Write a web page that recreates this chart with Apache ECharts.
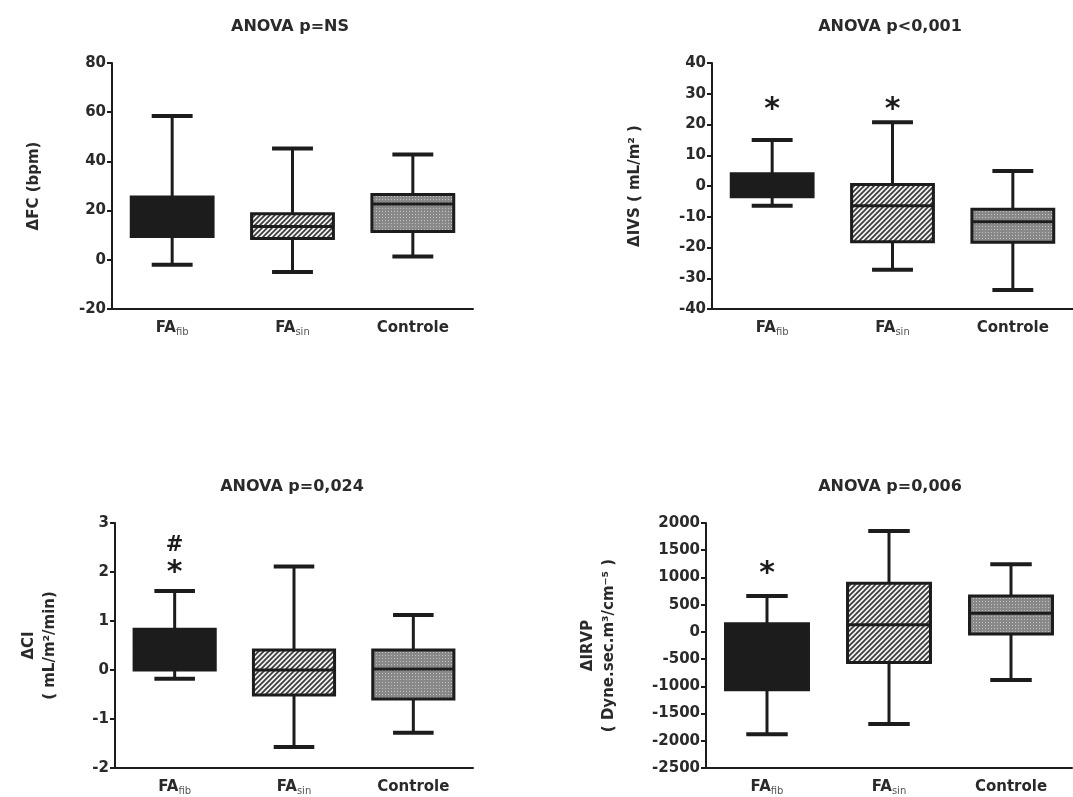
<!DOCTYPE html>
<html>
<head>
<meta charset="utf-8">
<script src="https://cdn.jsdelivr.net/npm/echarts@6/dist/echarts.min.js"></script>
<style>
html,body{margin:0;padding:0;background:#fff;}
#chart{width:1073px;height:797px;}
</style>
</head>
<body>
<div id="chart"></div>
<script>
// ---------- DATA ----------
const categories = ['FAfib', 'FAsin', 'Controle'];
// each box: [min, Q1, median, Q3, max]
const fcBoxes   = [[-2, 9.5, 17, 25.5, 58.5], [-5, 8.7, 13.5, 18.7, 45.2], [1.3, 11.5, 22.7, 26.5, 42.8]];
const ivsBoxes  = [[-6.4, -3.5, 0, 4, 15], [-27.2, -18.1, -6.4, 0.5, 20.7], [-33.8, -18.3, -11.6, -7.6, 4.9]];
const ciBoxes   = [[-0.18, 0, 0.4, 0.83, 1.61], [-1.57, -0.51, 0, 0.41, 2.11], [-1.28, -0.59, 0.02, 0.41, 1.12]];
const irvpBoxes = [[-1880, -1065, -400, 150, 660], [-1690, -563, 130, 894, 1855], [-882, -40, 343, 661, 1243]];
// significance marks: [category, value, symbol]
const fcMarks   = [];
const ivsMarks  = [['FAfib', 27, '*'], ['FAsin', 27, '*']];
const ciMarks   = [['FAfib', 2.11, '*'], ['FAfib', 2.55, '#']];
const irvpMarks = [['FAfib', 1190, '*']];
// axis ranges: [min, max, interval]
const fcAxis   = [-20, 80, 20];
const ivsAxis  = [-40, 40, 10];
const ciAxis   = [-2, 3, 1];
const irvpAxis = [-2500, 2000, 500];
const titles = ['ANOVA p=NS', 'ANOVA p<0,001', 'ANOVA p=0,024', 'ANOVA p=0,006'];
const yNames = ['ΔFC (bpm)', 'ΔIVS ( mL/m² )', 'ΔCI\n( mL/m²/min)', 'ΔIRVP\n( Dyne.sec.m³/cm⁻⁵ )'];

// ---------- STYLE ----------
const FONT = 'DejaVu Sans';
const INK = '#1c1c1c';
const TXT = '#2a2a2a';

function hatchPattern() {
  const c = document.createElement('canvas');
  const n = 5; c.width = n; c.height = n;
  const g = c.getContext('2d');
  g.fillStyle = '#f2f2f2'; g.fillRect(0, 0, n, n);
  g.strokeStyle = '#3c3c3c'; g.lineWidth = 1.7;
  g.beginPath();
  g.moveTo(-1, n + 1); g.lineTo(n + 1, -1);
  g.moveTo(-1, 1); g.lineTo(1, -1);
  g.moveTo(n - 1, n + 1); g.lineTo(n + 1, n - 1);
  g.stroke();
  return c;
}
function dotPattern() {
  const c = document.createElement('canvas');
  c.width = 3; c.height = 3;
  const g = c.getContext('2d');
  g.fillStyle = '#888888'; g.fillRect(0, 0, 3, 3);
  g.fillStyle = '#c2c2c2'; g.fillRect(1, 1, 1, 1);
  return c;
}
const fills = [INK, { image: hatchPattern(), repeat: 'repeat' }, { image: dotPattern(), repeat: 'repeat' }];

const grids = [
  { left: 112, top: 63, width: 361, height: 246 },
  { left: 712, top: 63, width: 361, height: 246 },
  { left: 115, top: 523, width: 358, height: 245 },
  { left: 706, top: 523, width: 366, height: 245 }
];
const titlePos = [[290, 19], [890, 19], [292, 479], [890, 479]];
const nameGaps = [67, 66, 54, 86];
const axesCfg = [fcAxis, ivsAxis, ciAxis, irvpAxis];
const boxSets = [fcBoxes, ivsBoxes, ciBoxes, irvpBoxes];
const markSets = [fcMarks, ivsMarks, ciMarks, irvpMarks];

function boxSeries(i, boxes) {
  return {
    type: 'custom', xAxisIndex: i, yAxisIndex: i, silent: true,
    data: boxes.map((b, k) => [k].concat(b)),
    encode: { x: 0, y: [1, 2, 3, 4, 5] },
    renderItem: function (params, api) {
      const k = api.value(0);
      const band = api.size([1, 0])[0];
      const bw = band * 0.68, cw = band * 0.34;
      const pMin = api.coord([k, api.value(1)]);
      const pQ1 = api.coord([k, api.value(2)]);
      const pMed = api.coord([k, api.value(3)]);
      const pQ3 = api.coord([k, api.value(4)]);
      const pMax = api.coord([k, api.value(5)]);
      const cx = pMin[0];
      const ln = (x1, y1, x2, y2, w) => ({ type: 'line', shape: { x1, y1, x2, y2 }, style: { stroke: INK, lineWidth: w } });
      return {
        type: 'group',
        children: [
          ln(cx, pMax[1], cx, pQ3[1], 3),
          ln(cx, pQ1[1], cx, pMin[1], 3),
          ln(cx - cw / 2, pMax[1], cx + cw / 2, pMax[1], 4),
          ln(cx - cw / 2, pMin[1], cx + cw / 2, pMin[1], 4),
          { type: 'rect', shape: { x: cx - bw / 2, y: pQ3[1], width: bw, height: pQ1[1] - pQ3[1] },
            style: { fill: fills[k], stroke: INK, lineWidth: 3 } },
          ln(cx - bw / 2, pMed[1], cx + bw / 2, pMed[1], 3)
        ]
      };
    }
  };
}
function markSeries(i, marks) {
  return {
    type: 'custom', xAxisIndex: i, yAxisIndex: i, silent: true,
    data: marks.map(m => [categories.indexOf(m[0]), m[1], m[2]]),
    renderItem: function (params, api) {
      const p = api.coord([api.value(0), api.value(1)]);
      const sym = marks[params.dataIndex][2];
      const star = sym === '*';
      return {
        type: 'text', x: p[0], y: p[1] + (star ? 7 : 0),
        style: { text: sym, fontFamily: FONT, fontWeight: 'bold', fontSize: star ? 30 : 21,
                 fill: INK, textAlign: 'center', textVerticalAlign: 'middle' }
      };
    }
  };
}

const option = {
  animation: false,
  backgroundColor: '#fff',
  title: titles.map((t, i) => ({
    text: t, left: titlePos[i][0], top: titlePos[i][1], textAlign: 'center', padding: 0,
    textStyle: { fontFamily: FONT, fontWeight: 'bold', fontSize: 16, color: TXT }
  })),
  grid: grids,
  xAxis: grids.map((g, i) => ({
    type: 'category', gridIndex: i, data: categories,
    axisLine: { onZero: false, lineStyle: { color: INK, width: 2 } },
    axisTick: { alignWithLabel: true, length: 6, lineStyle: { color: INK, width: 2 } },
    axisLabel: {
      margin: 10, color: TXT,
      formatter: v => v.indexOf('FA') === 0 ? '{a|FA}{b|' + v.slice(2) + '}' : '{a|' + v + '}',
      rich: {
        a: { fontFamily: FONT, fontWeight: 'bold', fontSize: 15, color: TXT, lineHeight: 18 },
        b: { fontFamily: FONT, fontSize: 10, color: '#555', verticalAlign: 'bottom', lineHeight: 18, padding: [4, 0, 0, 0] }
      }
    },
    splitLine: { show: false }
  })),
  yAxis: grids.map((g, i) => ({
    type: 'value', gridIndex: i,
    min: axesCfg[i][0], max: axesCfg[i][1], interval: axesCfg[i][2],
    name: yNames[i], nameLocation: 'middle', nameGap: nameGaps[i], nameRotate: 90,
    nameTextStyle: { fontFamily: FONT, fontWeight: 'bold', fontSize: 15, color: TXT, lineHeight: 21 },
    axisLine: { show: true, lineStyle: { color: INK, width: 2 } },
    axisTick: { show: true, length: 5, lineStyle: { color: INK, width: 2 } },
    axisLabel: { margin: 6, fontFamily: FONT, fontWeight: 'bold', fontSize: 15, color: TXT,
                 formatter: v => String(v) },
    splitLine: { show: false }
  })),
  series: boxSets.map((b, i) => boxSeries(i, b)).concat(markSets.map((m, i) => markSeries(i, m)))
};

const chart = echarts.init(document.getElementById('chart'), null, { renderer: 'canvas' });
chart.setOption(option);
</script>
</body>
</html>
